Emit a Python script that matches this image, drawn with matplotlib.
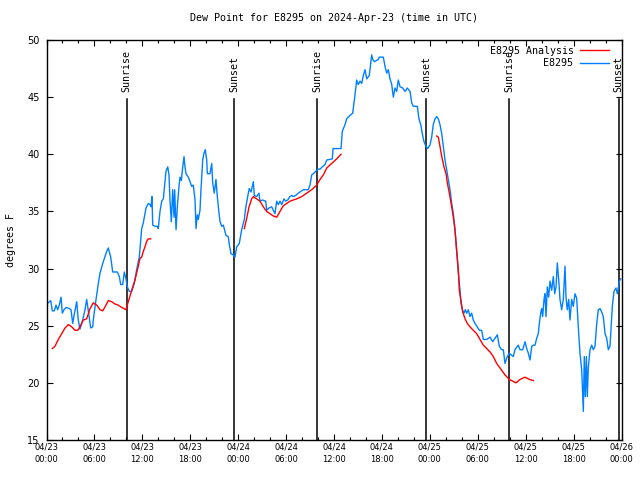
import numpy as np
import matplotlib
matplotlib.use("Agg")
import matplotlib.pyplot as plt
import matplotlib.dates as mdates
from datetime import datetime

# hours since 2024-04-23 00:00 UTC
obs_hours = [
    0.19, 0.53, 0.73, 0.98, 1.19, 1.40, 1.60, 1.82, 1.98, 2.19, 2.48, 2.86, 3.07, 3.28, 3.53,
    3.78, 3.98, 4.19, 4.53, 4.82, 5.03, 5.28, 5.53, 5.79, 5.86, 6.20, 6.49, 6.70, 7.11, 7.54,
    7.74, 8.04, 8.29, 8.87, 9.12, 9.29, 9.54, 9.74, 9.95, 10.12, 10.37, 10.67, 10.99, 11.29, 11.62,
    11.92, 12.12, 12.46, 12.75, 12.96, 13.09, 13.21, 13.30, 13.59, 13.87, 14.00, 14.21, 14.43, 14.63, 14.75,
    14.96, 15.18, 15.34, 15.46, 15.63, 15.80, 15.97, 16.05, 16.22, 16.38, 16.59, 16.72, 16.88, 17.06, 17.22,
    17.34, 17.47, 17.76, 17.97, 18.18, 18.38, 18.60, 18.72, 18.88, 19.01, 19.22, 19.35, 19.56, 19.72, 19.88,
    20.06, 20.14, 20.47, 20.69, 20.81, 21.01, 21.22, 21.39, 21.56, 21.73, 21.94, 22.14, 22.48, 22.76, 22.89,
    23.10, 23.39, 23.60, 23.82, 24.14, 24.44, 24.77, 24.94, 25.19, 25.39, 25.61, 25.90, 26.02, 26.32, 26.61,
    26.73, 27.02, 27.45, 27.57, 27.86, 28.20, 28.40, 28.61, 28.83, 29.03, 29.24, 29.45, 29.74, 29.95, 30.20,
    30.49, 30.70, 30.90, 31.20, 31.53, 32.16, 32.78, 32.99, 33.21, 33.41, 33.71, 33.96, 34.25, 34.54, 34.87,
    35.09, 35.79, 35.88, 36.88, 37.04, 37.38, 37.59, 38.00, 38.34, 38.63, 38.84, 39.04, 39.26, 39.47, 39.67,
    39.88, 40.10, 40.42, 40.72, 40.85, 41.05, 41.55, 41.67, 42.17, 42.39, 42.60, 42.80, 43.01, 43.23, 43.43,
    43.64, 43.85, 44.05, 44.27, 44.60, 44.89, 45.18, 45.52, 45.73, 45.93, 46.43, 46.64, 46.86, 47.06, 47.27,
    47.52, 47.73, 48.02, 48.23, 48.43, 48.65, 48.86, 49.06, 49.27, 49.49, 49.69, 49.90, 50.11, 50.31, 50.53,
    50.74, 50.94, 51.15, 51.28, 51.44, 51.57, 51.78, 51.90, 52.07, 52.28, 52.44, 52.62, 52.82, 53.03, 53.24,
    53.44, 53.66, 53.94, 54.19, 54.49, 54.70, 55.12, 55.54, 55.87, 56.16, 56.45, 56.70, 57.00, 57.20, 57.41,
    57.70, 57.95, 58.25, 58.45, 58.66, 59.08, 59.29, 59.63, 59.92, 60.13, 60.33, 60.54, 60.76, 60.96, 61.17,
    61.38, 61.58, 61.71, 61.88, 62.01, 62.13, 62.30, 62.42, 62.55, 62.71, 62.88, 63.05, 63.26, 63.46, 63.64,
    63.80, 63.96, 64.14, 64.30, 64.51, 64.71, 64.93, 65.05, 65.21, 65.39, 65.55, 65.76, 65.96, 66.18, 66.39,
    66.59, 66.80, 67.02, 67.22, 67.34, 67.47, 67.60, 67.72, 67.85, 68.06, 68.27, 68.47, 68.68, 68.90, 69.10,
    69.31, 69.52, 69.72, 69.94, 70.15, 70.35, 70.56, 70.69, 70.85, 71.06, 71.31, 71.48, 71.73, 71.90,
]
obs_dewpt = [
    27.0, 27.2, 26.3, 26.3, 26.8, 26.4, 26.8, 27.5, 26.1, 26.4, 26.6, 26.5, 26.4, 25.2, 26.2,
    27.1, 25.5, 24.7, 25.5, 26.4, 27.3, 26.1, 24.8, 24.9, 25.5, 27.3, 28.7, 29.6, 30.6, 31.5,
    31.8, 31.0, 29.7, 29.7, 29.3, 28.6, 28.6, 29.7, 29.1, 28.4, 28.0, 28.0, 28.7, 29.9, 31.0,
    33.5, 34.0, 35.3, 35.7, 35.6, 35.4, 36.3, 33.8, 33.7, 33.7, 33.5, 35.0, 35.9, 36.1, 37.0,
    38.5, 38.9, 38.2, 36.0, 34.1, 36.9, 34.5, 36.9, 33.4, 35.4, 37.2, 38.0, 37.7, 38.9, 39.8,
    38.9, 38.3, 38.0, 37.6, 37.2, 37.3, 36.0, 33.5, 34.7, 34.3, 35.1, 37.0, 39.5, 40.1, 40.4,
    39.5, 38.3, 38.3, 39.2, 37.5, 36.6, 37.8, 36.3, 35.1, 34.1, 33.7, 33.8, 32.9, 32.8, 32.1,
    31.3, 31.2, 31.0, 31.9, 32.2, 33.4, 34.3, 35.3, 36.3, 37.0, 36.7, 37.6, 36.4, 36.3, 36.6,
    35.9, 36.0, 35.9, 35.1, 35.3, 35.4, 35.1, 34.8, 35.9, 35.6, 35.9, 35.6, 36.1, 35.9, 36.0,
    36.3, 36.4, 36.3, 36.4, 36.6, 36.9, 36.9, 37.3, 38.2, 38.3, 38.5, 38.7, 38.7, 38.9, 39.1,
    39.5, 39.6, 40.5, 40.5, 42.0, 42.6, 43.1, 43.4, 43.6, 45.2, 46.5, 46.1, 46.4, 46.2, 46.9,
    47.4, 46.6, 46.9, 48.7, 48.3, 48.1, 48.3, 48.5, 48.5, 47.7, 47.1, 47.4, 46.6, 46.1, 45.0,
    45.8, 45.5, 46.5, 45.9, 45.8, 45.5, 45.8, 45.5, 44.5, 44.2, 44.2, 43.1, 42.6, 41.8, 41.1,
    40.7, 40.5, 40.8, 41.5, 42.6, 43.1, 43.3, 43.1, 42.6, 41.8, 40.7, 39.5, 38.6, 37.8, 36.9,
    35.7, 34.8, 33.4, 32.2, 30.8, 29.6, 28.1, 27.0, 26.4, 26.1, 26.4, 26.1, 26.4, 25.8, 26.1,
    25.5, 25.2, 24.9, 24.6, 24.6, 23.8, 23.8, 24.0, 23.6, 23.9, 24.2, 23.2, 22.9, 22.9, 21.7,
    22.3, 22.6, 22.4, 22.3, 22.9, 23.3, 22.9, 22.9, 23.6, 23.0, 22.6, 22.0, 23.2, 23.3, 23.3,
    23.9, 24.3, 25.2, 26.1, 26.5, 25.8, 27.3, 27.8, 25.8, 28.4, 27.5, 28.9, 28.1, 29.3, 27.8,
    28.4, 30.5, 29.0, 27.3, 26.4, 27.3, 30.2, 27.5, 26.4, 27.3, 25.5, 27.3, 26.7, 27.8, 27.4,
    24.9, 22.6, 21.1, 17.5, 22.3, 18.8, 22.3, 18.8, 21.4, 22.9, 23.3, 22.9, 23.2, 25.2, 26.4,
    26.5, 26.2, 25.8, 24.3, 23.9, 22.9, 23.2, 24.8, 26.7, 28.0, 28.3, 27.8, 28.9, 29.1,
]

# analysis series, NaN marks the gaps
ana_hours = [
    0.73, 1.06, 1.48, 1.90, 2.32, 2.73, 3.16, 3.57, 3.91, 4.19, 4.61, 5.03, 5.45, 5.86, 6.29,
    6.70, 7.04, 7.45, 7.74, 8.16, 8.58, 8.99, 9.42, 9.95, 10.24, 10.67, 11.08, 11.49, 11.71, 11.92,
    12.12, 12.33, 12.55, 12.75, 13.05,
    18.0,
    24.77, 25.07, 25.36, 25.69, 25.90, 26.32, 26.73, 27.15, 27.57, 27.99, 28.40, 28.83, 29.24, 29.65, 30.08,
    30.49, 30.90, 31.33, 31.96, 32.58, 33.21, 33.83, 34.25, 34.66, 35.09, 35.71, 36.34, 36.88,
    42.0,
    48.86, 49.06, 49.27, 49.49, 49.77, 50.03, 50.19, 50.44, 50.74, 50.94, 51.15, 51.36, 51.57, 51.69, 51.87,
    52.12, 52.41, 52.69, 53.03, 53.44, 53.87, 54.28, 54.70, 55.12, 55.54, 55.95, 56.37, 56.79, 57.41, 57.95,
    58.79, 59.29, 59.92, 60.46, 60.96,
]
ana_dewpt = [
    23.0, 23.2, 23.8, 24.3, 24.8, 25.1, 24.9, 24.6, 24.6, 24.9, 25.5, 25.6, 26.5, 27.0, 26.8,
    26.4, 26.3, 26.8, 27.2, 27.1, 26.9, 26.8, 26.6, 26.4, 27.1, 28.1, 29.0, 30.2, 30.9, 31.0,
    31.5, 31.9, 32.4, 32.6, 32.6,
    np.nan,
    33.5, 34.4, 35.4, 36.1, 36.3, 36.1, 35.9, 35.4, 35.0, 34.8, 34.6, 34.5, 35.0, 35.5, 35.7,
    35.9, 36.0, 36.1, 36.3, 36.6, 36.9, 37.3, 37.8, 38.2, 38.8, 39.2, 39.6, 40.0,
    np.nan,
    41.6, 41.5, 40.7, 39.8, 38.9, 38.3, 37.5, 36.6, 35.4, 34.5, 33.4, 31.6, 29.9, 28.1, 27.3,
    26.2, 25.6, 25.2, 24.9, 24.6, 24.3, 23.8, 23.3, 23.0, 22.7, 22.3, 21.7, 21.3, 20.7, 20.3,
    20.0, 20.3, 20.5, 20.3, 20.2,
]

sun_labels = ["Sunrise", "Sunset", "Sunrise", "Sunset", "Sunrise", "Sunset"]
sun_hours = [10.04, 23.52, 33.91, 47.56, 57.96, 71.65]

base = mdates.date2num(datetime(2024, 4, 23))
t_obs = base + np.array(obs_hours) / 24.0
t_ana = base + np.array(ana_hours) / 24.0
t_sun = base + np.array(sun_hours) / 24.0

mono = "DejaVu Sans Mono"

fig = plt.figure(figsize=(6.4, 4.8), dpi=100)
ax = fig.add_axes([46.5 / 640, 40 / 480, 575 / 640, 400 / 480])

for t, lbl in zip(t_sun, sun_labels):
    ax.plot([t, t], [15, 44.85], color="black", lw=1.1, zorder=1)
    ax.text(t, 45.45, lbl, rotation=90, ha="center", va="bottom",
            fontsize=7.2, family=mono)

ax.plot(t_ana, ana_dewpt, color="#ff0000", lw=1.0, label="E8295 Analysis", zorder=3)
ax.plot(t_obs, obs_dewpt, color="#0080ff", lw=1.0, label="E8295", zorder=2)

ax.set_xlim(base, base + 3)
ax.set_ylim(15, 50)
ax.xaxis.set_major_locator(mdates.HourLocator(byhour=range(0, 24, 6)))
ax.xaxis.set_minor_locator(mdates.HourLocator(byhour=range(0, 24, 2)))
ax.xaxis.set_major_formatter(mdates.DateFormatter("%m/%d\n%H:%M"))
ax.set_yticks(range(15, 51, 5))

ax.tick_params(which="both", direction="in", top=True, right=True, width=0.8)
ax.tick_params(which="major", length=4.5)
ax.tick_params(which="minor", length=2.5)
ax.tick_params(axis="x", labelsize=6, pad=2)
ax.tick_params(axis="y", labelsize=7, pad=5)
for lbl in ax.get_xticklabels():
    lbl.set_linespacing(1.5)

ax.set_ylabel("degrees F", fontsize=7.2, family=mono, labelpad=8)
ax.set_title("Dew Point for E8295 on 2024-Apr-23 (time in UTC)",
             fontsize=7.2, family=mono, pad=14)

ax.legend(loc="upper right", bbox_to_anchor=(1 - 6 / 575, 1 + 1 / 400),
          frameon=False, markerfirst=False,
          prop={"family": mono, "size": 7.2}, handlelength=2.9,
          labelspacing=0.25, borderaxespad=0.3, handletextpad=0.6)

for s in ax.spines.values():
    s.set_linewidth(1.0)

fig.savefig("out.png", dpi=100)
